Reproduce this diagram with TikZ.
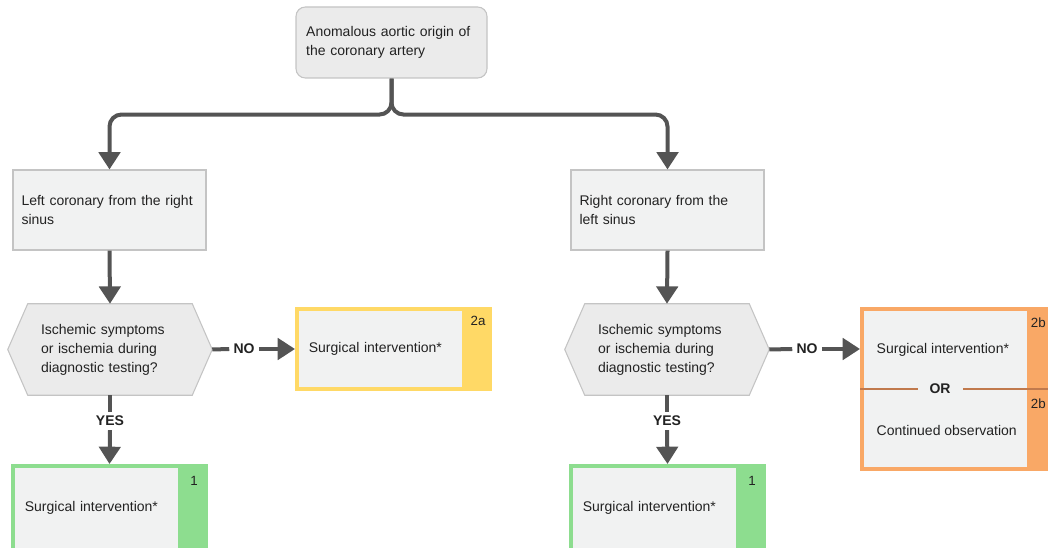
\documentclass[tikz,border=0pt]{standalone}
\usepackage{fontspec}
\setmainfont{Liberation Sans}
\usetikzlibrary{arrows.meta,backgrounds}

\definecolor{ink}{HTML}{222222}
\definecolor{boxfill}{HTML}{F1F2F2}
\definecolor{topfill}{HTML}{EBEBEB}
\definecolor{edge}{HTML}{C4C4C4}
\definecolor{arrowc}{HTML}{545454}
\definecolor{greenc}{HTML}{8DDD8F}
\definecolor{yellowc}{HTML}{FFD966}
\definecolor{orangec}{HTML}{F9A866}
\definecolor{orline}{HTML}{C17A4D}

\tikzset{
  line/.style={draw=arrowc, line width=3pt},
  arr/.style={line, -{Triangle[length=13pt,width=16pt]}},
  lbl/.style={font=\fontsize{10.5}{12}\selectfont\bfseries, inner xsep=3pt, inner ysep=3pt},
  tag/.style={font=\fontsize{10}{12}\selectfont},
  topbox/.style={draw=edge, fill=topfill, line width=0.8pt, rounded corners=7pt,
    minimum width=143.25pt, minimum height=53.25pt, text width=128pt, inner xsep=0pt, align=left},
  gbox/.style={draw=edge, fill=boxfill, line width=0.8pt,
    minimum width=144.75pt, minimum height=60pt, text width=132pt, inner xsep=0pt, align=left},
  qtext/.style={minimum width=153pt, minimum height=68.25pt, text width=103.5pt, inner sep=0pt, align=left},
  hexa/.style={draw=edge, fill=topfill, line width=0.8pt},
  outbox/.style={draw=#1, fill=#1, line width=3pt, minimum width=144.75pt,
    text width=127pt, inner xsep=0pt, align=left,
    path picture={\fill[boxfill] (path picture bounding box.north west)
      rectangle ([xshift=-21pt]path picture bounding box.south east);}}
}

\begin{document}
\begin{tikzpicture}[x=0.75pt, y=-0.75pt, font=\fontsize{10.5}{14.25}\selectfont, text=ink]

  \useasboundingbox (0,0) rectangle (1048,548);
  \clip (0,0) rectangle (1048,548);

  % top and the two origins
  \node[topbox] (top) at (391.5,42.5) {Anomalous aortic origin of\\the coronary artery};
  \node[gbox] (leftB) at (109.5,210) {Left coronary from the right\\sinus};
  \node[gbox] (rightB) at (667.5,210) {Right coronary from the\\left sinus};

  \draw[arr, rounded corners=9pt] (top.south) -- ++(0,36) -| (leftB.north);
  \draw[arr, rounded corners=9pt] (top.south) -- ++(0,36) -| (rightB.north);

  % questions
  \node[qtext] (hexL) at (110,349.5) {Ischemic symptoms\\or ischemia during\\diagnostic testing?};
  \node[qtext] (hexR) at (667,349.5) {Ischemic symptoms\\or ischemia during\\diagnostic testing?};

  \begin{scope}[on background layer]
    \foreach \q in {hexL,hexR}{
      \draw[hexa] ([xshift=15pt]\q.north west) -- ([xshift=-15pt]\q.north east) -- (\q.east)
        -- ([xshift=-15pt]\q.south east) -- ([xshift=15pt]\q.south west) -- (\q.west) -- cycle;
    }
  \end{scope}

  \draw[arr] (leftB.south) -- (hexL.north);
  \draw[arr] (rightB.south) -- (hexR.north);

  % outcomes
  \node[outbox=yellowc, minimum height=60pt] (surgA) at (393.5,349) {Surgical intervention*};
  \node[outbox=greenc, minimum height=63pt] (resL) at (109.5,508) {Surgical intervention*};
  \node[outbox=greenc, minimum height=63pt] (resR) at (667.5,508) {Surgical intervention*};
  \node[outbox=orangec, minimum height=120pt] (noR) at (958.5,389) {};

  \node[tag] at ([xshift=-10.5pt,yshift=-10.5pt]surgA.north east) {2a};
  \node[tag] at ([xshift=-10.5pt,yshift=-13pt]resL.north east) {1};
  \node[tag] at ([xshift=-10.5pt,yshift=-13pt]resR.north east) {1};
  \node[tag] at ([xshift=-14pt,yshift=-12pt]noR.north east) {2b};
  \node[tag] at ([xshift=-14pt,yshift=-11pt]noR.east) {2b};

  \draw[orline, line width=1.5pt] (noR.west) -- (noR.east);
  \node[lbl, fill=boxfill, inner xsep=9pt] (orR) at (940,389) {OR};
  \node[anchor=west] (optS) at (872,350) {Surgical intervention*};
  \node[anchor=west] (optC) at (872,430) {Continued observation};

  % yes / no branches
  \node[lbl] (noLL) at (244,349) {NO};
  \node[lbl] (noRL) at (807,349) {NO};
  \node[lbl] (yesL) at (110,421) {YES};
  \node[lbl] (yesR) at (667,421) {YES};

  \draw[line] (hexL.east) -- (noLL.west);
  \draw[arr] (noLL.east) -- (surgA.west);
  \draw[line] (hexR.east) -- (noRL.west);
  \draw[arr] (noRL.east) -- (noRL.east -| noR.west);

  \draw[line] (hexL.south) -- (yesL.north);
  \draw[arr] (yesL.south) -- (resL.north);
  \draw[line] (hexR.south) -- (yesR.north);
  \draw[arr] (yesR.south) -- (resR.north);

\end{tikzpicture}
\end{document}
